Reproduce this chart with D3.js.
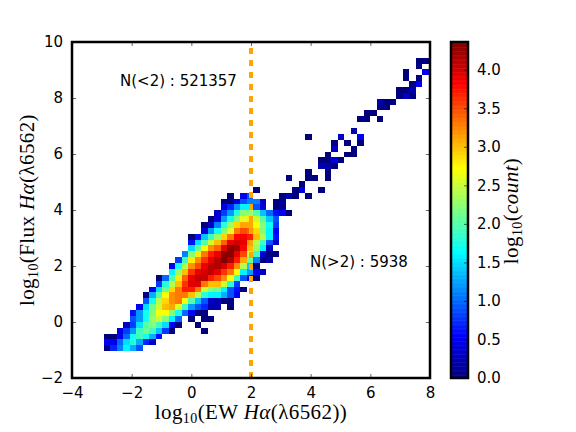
<!DOCTYPE html>
<html>
<head>
<meta charset="utf-8">
<script src="https://cdn.jsdelivr.net/npm/d3@7"></script>
<style>
body { margin: 0; background: #fff; }
text { font-family: "DejaVu Sans", sans-serif; fill: #000; }
.math { font-family: "Liberation Serif", serif; letter-spacing: 0.4px; }
</style>
</head>
<body>
<div id="chart"></div>
<script>
var xTicks = [-4, -2, 0, 2, 4, 6, 8];
var yTicks = [-2, 0, 2, 4, 6, 8, 10];
var barTicks = [0, 0.5, 1, 1.5, 2, 2.5, 3, 3.5, 4];
var barMax = 4.36;
var cutValue = 2;
var jetStops = ["#00007f", "#0000ff", "#007fff", "#00ffff", "#7fff7f", "#ffff00", "#ff7f00", "#ff0000", "#7f0000"];

// histogram bins, 50 x 50
var xBinEdges = [-2.93, 7.95];
var yBinEdges = [-1.04, 9.44];
var binCount = 50;

// first filled column of each row (row 0 is the bottom one)
var rowStart = [0, 0, 0, 2, 3, 4, 4, 5, 6, 6, 7, 8, 8, 10, 10, 11, 12, 13, 13, 13, 15, 15, 16, 17, 18,
    18, 19, 23, 30, 28, 31, 33, 33, 34, 35, 35, 31, 38, 0, 39, 40, 42, 42, 45, 45, 47, 46, 46, 48, 48];

// log10(count) per cell, null where the bin is empty
var rowValues = [
    [0, .7, 1.1, 1.6, 1.3, .9],
    [.5, .5, 1, 1.5, 1.8, 1.3, .7, .3],
    [0, 0, .5, 1, 1.7, 1.9, 1.7, 1.3, .6],
    [.4, .8, 1.2, 1.9, 2.1, 1.9, 1.4, .8, 0, null, null, null, null, 0],
    [.3, .8, 1.5, 2, 2.2, 1.9, 1.5, .5, 0, null, null, 0],
    [.9, 1.2, 1.7, 2.3, 2.5, 2.2, 1.6, 1, null, 0, null, 0, 0],
    [.6, 1.2, 1.7, 2.2, 2.7, 2.7, 2.2, 1.7, 1, .5, 0, 0],
    [.5, 1.5, 2.1, 2.5, 3, 3.1, 2.6, 1.9, 1.2, .9, .7, .2, .2, null, 0],
    [.9, 1.7, 2.4, 2.9, 3.2, 3.3, 2.7, 2, 1.4, .9, .3, .2, 0, 0],
    [0, 1.3, 2, 2.7, 3.2, 3.3, 3.3, 3, 2.4, 1.8, 1.6, 1.6, 1.3, .9, .5],
    [.5, 1.5, 2.1, 2.9, 3.3, 3.7, 3.7, 3.3, 2.5, 2.2, 2.1, 1.6, .9, .6, 0],
    [.8, 1.8, 2.4, 3, 3.6, 3.95, 3.95, 3.3, 3, 3, 2.5, 1.8, .8],
    [0, 1, 2, 2.8, 3.4, 3.9, 4.1, 4.05, 3.7, 3.5, 3.2, 2.7, 1.9, .9, .4, 0],
    [1.6, 2.3, 3, 3.6, 3.9, 4, 4.1, 3.9, 3.6, 3.3, 2.7, 1.6, 1.2, .5, .3],
    [.5, 1.7, 2.4, 3.2, 3.5, 3.9, 4.1, 4.15, 4, 3.7, 3.2, 2.4, 1.4, 0],
    [.8, 1.9, 2.8, 3.2, 3.6, 3.9, 4.1, 4.35, 4.15, 3.7, 3.1, 2.1, 1.1, 0, .2],
    [1.1, 2.2, 2.8, 3.3, 3.7, 3.9, 4.3, 4.3, 3.9, 3.5, 2.5, 1.9, .4, 0, 0],
    [1.5, 2.1, 2.7, 3.2, 3.4, 3.9, 4.3, 4.2, 3.8, 3, 2.3, 1.6, .3],
    [.6, 1.5, 2, 2.5, 3, 3.4, 3.9, 4, 3.9, 3.2, 2.4, 1.9, .9, .3],
    [0, .6, 1.4, 1.9, 2.3, 2.9, 3.3, 3.8, 3.85, 3.7, 3, 2.4, 1.6, .6],
    [.4, 1.2, 1.7, 2.2, 2.6, 3.3, 3.5, 3.4, 2.9, 2.2, 1.6, .5],
    [0, .3, 1.1, 1.8, 2.3, 2.9, 3.1, 3.1, 2.7, 2.2, 1.7, .8],
    [0, .4, 1.2, 1.7, 2.2, 2.6, 2.8, 2.5, 2, 1.4, .9],
    [.3, .8, 1.2, 1.8, 2.2, 2.3, 2, 1.4, 1, .6, .5, 0],
    [.4, .7, 1.2, 1.6, 1.6, .9, .4, null, 0, .1],
    [0, 0, .4, .9, 1.1, 1.1, .3, null, 0, .1],
    [0, null, .5, .9, null, null, null, null, 0, .2, 0, null, 0],
    [0, null, null, null, null, null, 0, .4, null, null, 0],
    [0],
    [0, null, null, 0, 0, null, 0],
    [0, null, null, 0],
    [.2, .2, 0],
    [0, 0, .4, 0],
    [0, null, null, 0, 0],
    [.3, null, null, 0],
    [0, null, 0, null, 0],
    [0, null, null, null, null, .3, null, null, .5],
    [.2],
    [],
    [0, 0, null, 0],
    [0, 0],
    [0, 0],
    [.2, 0, 0],
    [0, .3, 0],
    [0, 0, .2],
    [0, .5],
    [0, null, 0],
    [0, null, null, .5],
    [0],
    [0, 0]
];

var width = 576, height = 432;
var margin = { left: 72, right: 430, top: 42, bottom: 378 };

var x = d3.scaleLinear().domain([-4, 8]).range([margin.left, margin.right]);
var y = d3.scaleLinear().domain([-2, 10]).range([margin.bottom, margin.top]);
var xBin = d3.scaleLinear().domain([0, binCount]).range(xBinEdges);
var yBin = d3.scaleLinear().domain([0, binCount]).range(yBinEdges);
var color = d3.scaleLinear()
    .domain(jetStops.map(function (d, i) { return barMax * i / (jetStops.length - 1); }))
    .range(jetStops);

var svg = d3.select("#chart").append("svg")
    .attr("width", width)
    .attr("height", height);

// flatten rows to cells
var cells = [];
rowValues.forEach(function (vals, r) {
    vals.forEach(function (v, i) {
        if (v !== null) cells.push({ r: r, c: rowStart[r] + i, v: v });
    });
});

svg.append("g").selectAll("rect")
    .data(cells)
    .enter()
    .append("rect")
    .attr("x", function (d) { return x(xBin(d.c)); })
    .attr("y", function (d) { return y(yBin(d.r + 1)); })
    .attr("width", function (d) { return x(xBin(d.c + 1)) - x(xBin(d.c)); })
    .attr("height", function (d) { return y(yBin(d.r)) - y(yBin(d.r + 1)); })
    .attr("fill", function (d) { return color(d.v); })
    .attr("shape-rendering", "crispEdges");

// cut line
svg.append("line")
    .attr("x1", x(cutValue))
    .attr("x2", x(cutValue))
    .attr("y1", y.range()[0])
    .attr("y2", y.range()[1])
    .attr("stroke", "#ffa500")
    .attr("stroke-width", 4)
    .attr("stroke-dasharray", "6,6");

function drawFrame(sel, x0, x1, y0, y1) {
    sel.append("rect")
        .attr("x", x0).attr("y", y0)
        .attr("width", x1 - x0).attr("height", y1 - y0)
        .attr("fill", "none")
        .attr("stroke", "#000")
        .attr("stroke-width", 2.5);
}
drawFrame(svg, margin.left, margin.right, margin.top, margin.bottom);

// axes, ticks point inward on all four sides
var tickLen = 4;
var bottomAxis = svg.append("g").attr("transform", "translate(0," + margin.bottom + ")")
    .call(d3.axisBottom(x).tickValues(xTicks).tickSizeInner(-tickLen).tickSizeOuter(0).tickPadding(9));
var topAxis = svg.append("g").attr("transform", "translate(0," + margin.top + ")")
    .call(d3.axisTop(x).tickValues(xTicks).tickSizeInner(-tickLen).tickSizeOuter(0).tickFormat(""));
var leftAxis = svg.append("g").attr("transform", "translate(" + margin.left + ",0)")
    .call(d3.axisLeft(y).tickValues(yTicks).tickSizeInner(-tickLen).tickSizeOuter(0).tickPadding(9));
var rightAxis = svg.append("g").attr("transform", "translate(" + margin.right + ",0)")
    .call(d3.axisRight(y).tickValues(yTicks).tickSizeInner(-tickLen).tickSizeOuter(0).tickFormat(""));

[bottomAxis, topAxis, leftAxis, rightAxis].forEach(function (a) {
    a.select(".domain").remove();
    a.selectAll("text").style("font-size", "15px").attr("font-family", null);
    a.selectAll("line").attr("stroke-width", 0.6);
});
// minus signs like the reference
bottomAxis.selectAll("text").text(function (d) { return d < 0 ? "\u2212" + (-d) : d; });
leftAxis.selectAll("text").text(function (d) { return d < 0 ? "\u2212" + (-d) : d; });

// annotations
svg.append("text").attr("x", 120).attr("y", 86).style("font-size", "15px").text("N(<2) : 521357");
svg.append("text").attr("x", 310).attr("y", 267).style("font-size", "15px").text("N(>2) : 5938");

// axis labels
function mathLabel(t, parts) {
    parts.forEach(function (p) {
        var s = t.append("tspan").text(p.t);
        if (p.i) s.attr("font-style", "italic");
        if (p.sub) s.attr("dy", 4).style("font-size", "14px");
        if (p.up) s.attr("dy", -4);
    });
}

var xLabel = svg.append("text").attr("class", "math")
    .attr("x", 251).attr("y", 419)
    .attr("text-anchor", "middle")
    .style("font-size", "21px");
mathLabel(xLabel, [
    { t: "log" }, { t: "10", sub: true }, { t: "(EW ", up: true },
    { t: "H\u03b1", i: true }, { t: "(" }, { t: "\u03bb" }, { t: "6562))" }
]);

var yLabel = svg.append("text").attr("class", "math")
    .attr("transform", "translate(34,210) rotate(-90)")
    .attr("text-anchor", "middle")
    .style("font-size", "21px");
mathLabel(yLabel, [
    { t: "log" }, { t: "10", sub: true }, { t: "(Flux ", up: true },
    { t: "H\u03b1", i: true }, { t: "(" }, { t: "\u03bb" }, { t: "6562)" }
]);

// colorbar
var barLeft = 451, barRight = 468;
var barY = d3.scaleLinear().domain([0, barMax]).range([margin.bottom, margin.top]);
var barSteps = d3.range(256).map(function (i) { return barMax * i / 256; });

svg.append("g").selectAll("rect")
    .data(barSteps)
    .enter()
    .append("rect")
    .attr("x", barLeft)
    .attr("width", barRight - barLeft)
    .attr("y", function (d) { return barY(d + barMax / 256); })
    .attr("height", function () { return barY(0) - barY(barMax / 256) + 0.5; })
    .attr("fill", function (d) { return color(d); });

drawFrame(svg, barLeft, barRight, margin.top, margin.bottom);

var barAxis = svg.append("g").attr("transform", "translate(" + barRight + ",0)")
    .call(d3.axisRight(barY).tickValues(barTicks).tickFormat(d3.format(".1f")).tickSizeInner(-tickLen).tickSizeOuter(0).tickPadding(9));
barAxis.select(".domain").remove();
barAxis.selectAll("text").style("font-size", "15px").attr("font-family", null);
barAxis.selectAll("line").attr("stroke-width", 0.6);

var barLabel = svg.append("text").attr("class", "math")
    .attr("transform", "translate(518,211) rotate(-90)")
    .attr("text-anchor", "middle")
    .style("font-size", "21px");
mathLabel(barLabel, [
    { t: "log" }, { t: "10", sub: true }, { t: "(", up: true }, { t: "count", i: true }, { t: ")" }
]);
</script>
</body>
</html>
